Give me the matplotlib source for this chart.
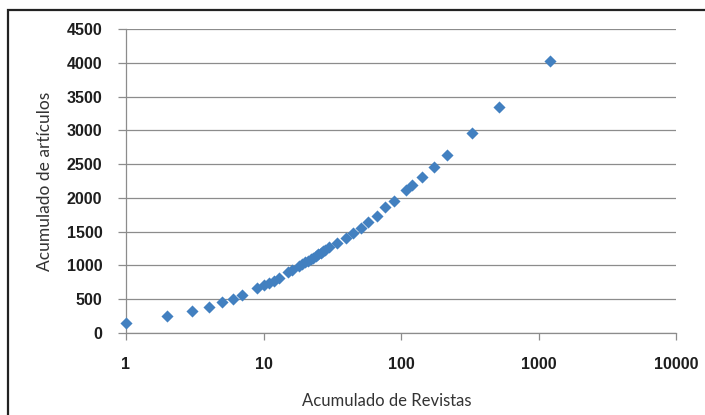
import numpy as np
import matplotlib
matplotlib.use("Agg")
from matplotlib import pyplot as plt
from matplotlib.patches import Rectangle

# Cumulative journals (x) vs cumulative articles (y)
revistas = [1, 2, 3, 4, 5, 6, 7, 9, 10, 11, 12, 13, 15, 16, 18, 19, 20, 21, 22,
            23, 24, 25, 26, 27, 28, 30, 34, 40, 45, 51, 58, 67, 77, 89, 109,
            120, 141, 174, 215, 327, 516, 1213]
articulos = [153, 248, 326, 390, 455, 504, 568, 663, 707, 737, 776, 810, 900,
             935, 990, 1020, 1045, 1070, 1095, 1115, 1140, 1165, 1185, 1210,
             1235, 1268, 1329, 1412, 1477, 1560, 1649, 1736, 1860, 1960, 2114,
             2193, 2311, 2464, 2633, 2963, 3344, 4019]

xticks = [1, 10, 100, 1000, 10000]
yticks = list(range(0, 5000, 500))

grid_col = '#8c8c8c'
blue = '#4280c0'

fig = plt.figure(figsize=(7.05, 4.15), dpi=100)
fig.patch.set_facecolor('white')
ax = fig.add_axes([126/705, 1 - 333/415, 550/705, 304/415])

ax.scatter(revistas, articulos, marker='D', s=38, color=blue, linewidths=0, zorder=3, clip_on=False)

ax.set_xscale('log')
ax.set_xlim(1, 10000)
ax.set_ylim(0, 4500)
ax.set_xticks(xticks)
ax.set_xticklabels([str(t) for t in xticks])
ax.xaxis.set_minor_locator(matplotlib.ticker.NullLocator())
ax.set_yticks(yticks)
ax.set_yticklabels([str(t) for t in yticks])

ax.yaxis.grid(True, color=grid_col, linewidth=0.9)
ax.set_axisbelow(True)
for s in ['top', 'right']:
    ax.spines[s].set_visible(False)
for s in ['left', 'bottom']:
    ax.spines[s].set_color(grid_col)
    ax.spines[s].set_linewidth(0.9)

ax.tick_params(axis='y', direction='out', length=6, width=0.9, color=grid_col, pad=11)
ax.tick_params(axis='x', direction='out', length=5, width=0.9, color=grid_col, pad=12)
for lab in ax.get_xticklabels() + ax.get_yticklabels():
    lab.set_fontfamily('Liberation Sans')
    lab.set_fontweight('bold')
    lab.set_fontsize(11.5)
    lab.set_color('#1e1e1e')

ax.set_xlabel('Acumulado de Revistas', fontsize=12, family='Lato', color='#333333')
ax.set_ylabel('Acumulado de artículos', fontsize=12.5, family='Lato', color='#333333')
ax.xaxis.set_label_coords((387 - 126) / 550, -(401 - 333) / 304)
ax.yaxis.set_label_coords((45 - 126) / 550, 0.5)
ax.xaxis.label.set_va('center')
ax.yaxis.label.set_va('center')

# outer chart frame (left and top edges visible in the crop)
fig.add_artist(Rectangle((8/705, -0.2), 1.2, 1.2 - 10/415, transform=fig.transFigure,
                         fill=False, edgecolor='#222222', linewidth=1.6, clip_on=False))

fig.savefig('out.png', dpi=100)
